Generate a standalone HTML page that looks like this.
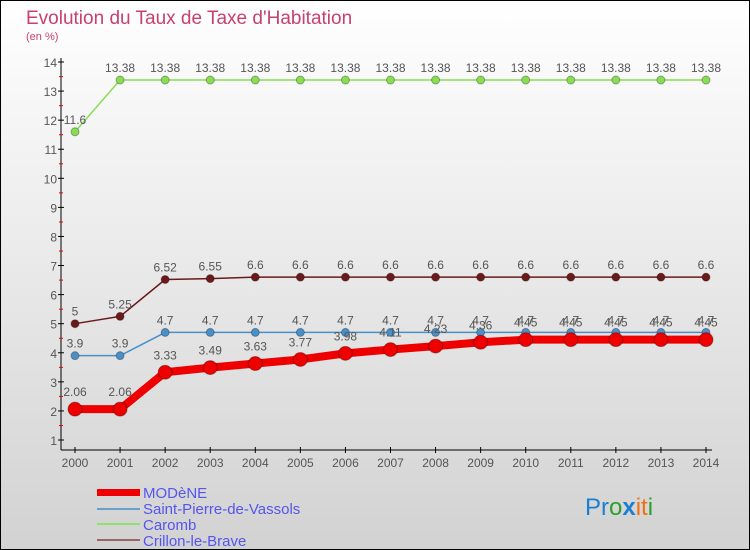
<!DOCTYPE html>
<html><head><meta charset="utf-8"><style>
body{margin:0;}
svg{display:block;font-family:"Liberation Sans",sans-serif;}
</style></head><body>
<svg width="750" height="550" xmlns="http://www.w3.org/2000/svg">
<defs><linearGradient id="bg" x1="0" y1="0" x2="0" y2="1"><stop offset="0" stop-color="#ffffff"/><stop offset="1" stop-color="#d2d2d2"/></linearGradient></defs>
<rect x="0.5" y="0.5" width="749" height="549" fill="url(#bg)" stroke="#000"/>
<text x="26" y="24" font-size="19" fill="#c84070">Evolution du Taux de Taxe d'Habitation</text>
<text x="26" y="40" font-size="11" fill="#c84070">(en %)</text>
<g id="axes"></g>
<g id="series"></g>
<g font-size="15" fill="#5555ee">
<rect x="97" y="489" width="43" height="7" fill="#e00"/>
<text x="143" y="498">MODèNE</text>
<rect x="97" y="508" width="43" height="2" fill="#6aa0cc"/>
<text x="143" y="514">Saint-Pierre-de-Vassols</text>
<rect x="97" y="523" width="43" height="2" fill="#90e070"/>
<text x="143" y="530">Caromb</text>
<rect x="97" y="539" width="43" height="2" fill="#996666"/>
<text x="143" y="546">Crillon-le-Brave</text>
</g>
<g font-size="24">
<text x="585" y="515"><tspan fill="#1a7fd0">Pr</tspan><tspan fill="#2aa02a">o</tspan><tspan fill="#1a7fd0" font-weight="bold">x</tspan><tspan fill="#f07010">it</tspan><tspan fill="#2aa02a">i</tspan></text>
</g>
</svg>
<script>
const years=[2000,2001,2002,2003,2004,2005,2006,2007,2008,2009,2010,2011,2012,2013,2014];
const modene=[2.06,2.06,3.33,3.49,3.63,3.77,3.98,4.11,4.23,4.36,4.45,4.45,4.45,4.45,4.45];
const stPierre=[3.9,3.9,4.7,4.7,4.7,4.7,4.7,4.7,4.7,4.7,4.7,4.7,4.7,4.7,4.7];
const caromb=[11.6,13.38,13.38,13.38,13.38,13.38,13.38,13.38,13.38,13.38,13.38,13.38,13.38,13.38,13.38];
const crillon=[5,5.25,6.52,6.55,6.6,6.6,6.6,6.6,6.6,6.6,6.6,6.6,6.6,6.6,6.6];
const yTicks=[1,2,3,4,5,6,7,8,9,10,11,12,13,14];
const NS='http://www.w3.org/2000/svg';
const X=i=>75+i*(706-75)/(years.length-1);
const Y=v=>440-(v-1)*(440-62)/13;
function mk(t,a,p){const e=document.createElementNS(NS,t);for(const k in a)e.setAttribute(k,a[k]);p.appendChild(e);return e;}
const ax=document.getElementById('axes');
let l=mk('line',{x1:61,y1:58,x2:61,y2:450,stroke:'#000'},ax);


l=mk('line',{x1:61,y1:450,x2:712,y2:450,stroke:'#000'},ax);


yTicks.forEach(v=>{const y=Y(v);
 mk('line',{x1:58,y1:y,x2:64,y2:y,stroke:'#000'},ax);
 if(v<14) mk('line',{x1:59,y1:y-14.5,x2:63,y2:y-14.5,stroke:'#e00'},ax);
 const t=mk('text',{x:57,y:y+5,'text-anchor':'end','font-size':12,fill:'#555'},ax);
 
 
 t.textContent=v;});
years.forEach((yr,i)=>{const x=X(i);
 mk('line',{x1:x,y1:447,x2:x,y2:453,stroke:'#000'},ax);
 const t=mk('text',{x:x,y:467,'text-anchor':'middle','font-size':12,fill:'#555'},ax);
 
 
 t.textContent=yr;});
const sg=document.getElementById('series');
function series(name,data,color,w,r,labOff){
 const g=mk('g',{},sg);
 
 
 mk('polyline',{points:data.map((v,i)=>X(i)+','+Y(v)).join(' '),fill:'none',stroke:color,'stroke-width':w,'stroke-linejoin':'round'},g);
 data.forEach((v,i)=>{const c=mk('circle',{cx:X(i),cy:Y(v),r:r,fill:color,stroke:'rgba(0,0,0,0.3)','stroke-width':1},g);
  
  
  const t=mk('text',{x:X(i),y:Y(v)-labOff,'text-anchor':'middle','font-size':12,fill:'#555'},g);
  
  
  t.textContent=String(v);});
}
series('caromb',caromb,'#88dd55',1.5,4,8);
series('crillon',crillon,'#6b1a1a',1.5,4,8);
series('saint-pierre',stPierre,'#4a90c8',1.5,4,8);
series('modene',modene,'#ee0000',8,7,13);
</script>
</body></html>
